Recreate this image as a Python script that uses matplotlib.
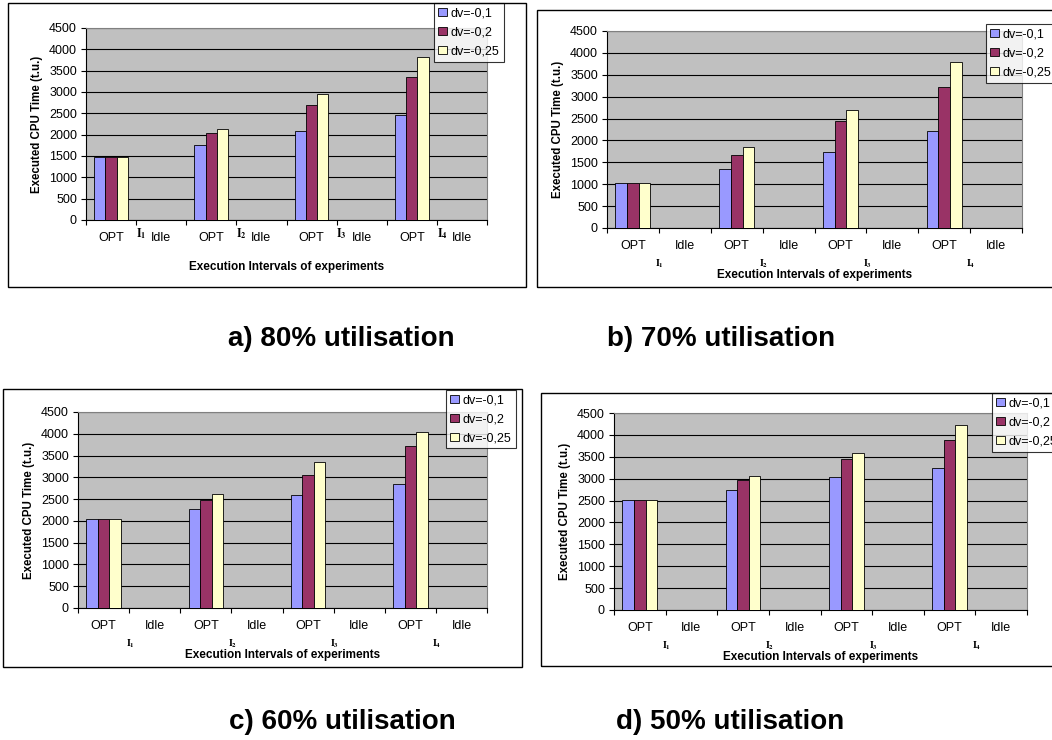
import matplotlib
matplotlib.use("Agg")
import matplotlib.pyplot as plt
from matplotlib.patches import Rectangle
import numpy as np

plt.rcParams['font.family'] = ['Liberation Sans', 'DejaVu Sans']
plt.rcParams['mathtext.fontset'] = 'stix'

categories = ['OPT', 'Idle', 'OPT', 'Idle', 'OPT', 'Idle', 'OPT', 'Idle']
series_names = ['dv=-0,1', 'dv=-0,2', 'dv=-0,25']
colors = ['#9999FF', '#993366', '#FFFFCC']
yticks = [0, 500, 1000, 1500, 2000, 2500, 3000, 3500, 4000, 4500]

# executed CPU time in the OPT part of each interval I1..I4
u80_dv01 = [1470, 1750, 2080, 2460]
u80_dv02 = [1470, 2040, 2690, 3340]
u80_dv025 = [1470, 2125, 2960, 3830]

u70_dv01 = [1020, 1350, 1725, 2210]
u70_dv02 = [1020, 1660, 2440, 3220]
u70_dv025 = [1020, 1845, 2685, 3790]

u60_dv01 = [2050, 2265, 2600, 2840]
u60_dv02 = [2050, 2480, 3065, 3710]
u60_dv025 = [2050, 2625, 3350, 4050]

u50_dv01 = [2505, 2750, 3035, 3240]
u50_dv02 = [2505, 2970, 3455, 3880]
u50_dv025 = [2505, 3050, 3590, 4215]

captions = ['a) 80% utilisation', 'b) 70% utilisation',
            'c) 60% utilisation', 'd) 50% utilisation']

W, H = 1052, 740
fig = plt.figure(figsize=(W / 100, H / 100), dpi=100)


def fx(px):
    return px / W


def fy(py):
    return 1 - py / H


def panel(box, border, leg_xy, data, style):
    l, t, r, b = box
    ax = fig.add_axes([fx(l), fy(b), fx(r - l), (b - t) / H])
    ax.set_facecolor('#C0C0C0')
    x = np.arange(len(categories))
    opt_x = x[0::2]
    bw = 0.225
    for i, vals in enumerate(data):
        ax.bar(opt_x + (i - 1) * bw, vals, bw, color=colors[i],
               edgecolor='black', linewidth=0.6, label=series_names[i], zorder=3)
    ax.set_xlim(-0.5, len(categories) - 0.5)
    ax.set_ylim(0, 4500)
    ax.set_yticks(yticks)
    ax.yaxis.grid(True, color='black', linewidth=0.8, zorder=1)
    ax.set_axisbelow(True)
    ax.tick_params(axis='y', labelsize=9, length=3.5, width=0.8, pad=3, direction='out')
    ax.set_xticks(x)
    ax.set_xticklabels(categories)
    ax.tick_params(axis='x', which='major', length=0, labelsize=9, pad=8.5)
    ax.set_xticks(np.arange(-0.5, len(categories)), minor=True)
    ax.tick_params(axis='x', which='minor', length=3.5, width=0.8, direction='out')
    for s in ['top', 'right']:
        ax.spines[s].set_color('#808080')
        ax.spines[s].set_linewidth(0.8)
    for s in ['left', 'bottom']:
        ax.spines[s].set_color('black')
        ax.spines[s].set_linewidth(0.8)

    # interval labels I1..I4 at the OPT/Idle boundary
    for k in range(4):
        lab = r'$\mathbf{I}_{\mathbf{%d}}$' % (k + 1)
        if style == 'inline':
            ax.annotate(lab, xy=(2 * k + 0.5, 0), xycoords=('data', 'axes fraction'),
                        xytext=(5, -14), textcoords='offset pixels',
                        ha='center', va='center', fontsize=8.5)
        else:
            ax.annotate(lab, xy=(2 * k + 0.5, 0), xycoords=('data', 'axes fraction'),
                        xytext=(1, -36), textcoords='offset pixels',
                        ha='center', va='center', fontsize=7)

    ax.annotate('Execution Intervals of experiments', xy=(0.5, 0), xycoords='axes fraction',
                xytext=(0, -47), textcoords='offset pixels', ha='center', va='center',
                fontsize=8.5, fontweight='bold')
    ax.annotate('Executed CPU Time (t.u.)', xy=(0, 0.5), xycoords='axes fraction',
                xytext=(-49, 0), textcoords='offset pixels', ha='center', va='center',
                rotation=90, fontsize=8.3, fontweight='bold')

    leg = ax.legend(loc='upper left', bbox_to_anchor=(fx(leg_xy[0]), fy(leg_xy[1])),
                    bbox_transform=fig.transFigure, fontsize=9, frameon=True,
                    fancybox=False, handlelength=0.65, handleheight=0.65,
                    handletextpad=0.35, labelspacing=0.55, borderpad=0.35,
                    borderaxespad=0)
    leg.get_frame().set_edgecolor('black')
    leg.get_frame().set_linewidth(0.8)
    for hnd in leg.legend_handles:
        hnd.set_edgecolor('black')

    bl, bt, br, bb = border
    fig.patches.append(Rectangle((fx(bl), fy(bb)), fx(br - bl), (bb - bt) / H,
                                 transform=fig.transFigure, fill=False,
                                 edgecolor='black', linewidth=1.0, zorder=0))
    return ax


panel((86, 28, 487, 220), (8, 3, 526, 287), (434, 3),
      [u80_dv01, u80_dv02, u80_dv025], 'inline')
panel((607, 31, 1022, 228), (537, 10, 1062, 287), (986, 24),
      [u70_dv01, u70_dv02, u70_dv025], 'below')
panel((78, 412, 487, 608), (3, 389, 522, 667), (446, 390),
      [u60_dv01, u60_dv02, u60_dv025], 'below')
panel((614, 413, 1027, 610), (541, 393, 1062, 666), (992, 393),
      [u50_dv01, u50_dv02, u50_dv025], 'below')

cap_pos = [(341, 339), (721, 339), (342, 722), (730, 722)]
for txt, (cx, cy) in zip(captions, cap_pos):
    fig.text(fx(cx), fy(cy), txt, ha='center', va='center',
             fontsize=20, fontweight='bold')

fig.savefig('out.png', dpi=100)
